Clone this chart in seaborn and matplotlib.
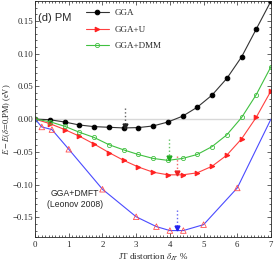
import numpy as np
import pandas as pd
import seaborn as sns
import matplotlib.pyplot as plt
from matplotlib.ticker import MultipleLocator

# JT distortion grid (%)
x_grid = [0, 0.44, 0.88, 1.31, 1.75, 2.19, 2.63, 3.06, 3.5, 3.94, 4.38, 4.81, 5.25, 5.69, 6.13, 6.56, 7.0]
e_gga = [0, -0.001, -0.0045, -0.009, -0.0115, -0.0125, -0.0135, -0.013, -0.0105, -0.0045, 0.0045, 0.018, 0.0365, 0.062, 0.095, 0.137, 0.18]
e_ggau = [0, -0.007, -0.016, -0.026, -0.038, -0.051, -0.063, -0.073, -0.081, -0.085, -0.085, -0.082, -0.072, -0.055, -0.030, 0.0025, 0.043]
e_dmm = [0, -0.004, -0.011, -0.020, -0.028, -0.039, -0.047, -0.054, -0.060, -0.063, -0.060, -0.054, -0.042, -0.024, 0.0025, 0.037, 0.080]

# GGA+DMFT (Leonov 2008)
x_dmft = [0, 0.2, 0.5, 1.0, 2.0, 3.0, 3.6, 4.0, 4.4, 5.0, 6.0, 7.0]
e_dmft = [0, -0.012, -0.016, -0.046, -0.107, -0.149, -0.164, -0.170, -0.170, -0.161, -0.105, 0.0]

# minima arrows: x, top, bottom
arr_x = [2.67, 3.97, 4.21, 4.21]
arr_top = [0.0175, -0.030, -0.056, -0.139]
arr_bot = [-0.013, -0.062, -0.085, -0.169]
arr_col = ['#222222', '#22aa22', '#ee2222', '#2222ee']

sns.set_style("ticks")
plt.rcParams['font.family'] = ['Liberation Serif', 'DejaVu Serif']
plt.rcParams['mathtext.fontset'] = 'stix'

df = pd.DataFrame({'x': x_grid, 'GGA': e_gga, 'GGA+U': e_ggau, 'GGA+DMM': e_dmm})

fig = plt.figure(figsize=(2.74, 2.62), dpi=100)
ax = fig.add_axes([0.128, 0.095, 0.861, 0.901])

ax.axhline(0, color='#d8d8d8', lw=1.0, zorder=0)

sns.lineplot(data=df, x='x', y='GGA', ax=ax, color='#333333', lw=0.8, marker='o',
             markersize=3.3, markerfacecolor='black', markeredgecolor='black', label='GGA')
sns.lineplot(data=df, x='x', y='GGA+U', ax=ax, color='#ff4040', lw=0.8, marker='>',
             markersize=3.3, markerfacecolor='#ff2020', markeredgecolor='#ff2020', label='GGA+U')
sns.lineplot(data=df, x='x', y='GGA+DMM', ax=ax, color='#40c040', lw=0.8, marker='o',
             markersize=3, markerfacecolor='none', markeredgecolor='#40c040', markeredgewidth=0.6,
             label='GGA+DMM')

dm = pd.DataFrame({'x': x_dmft, 'e': e_dmft})
sns.lineplot(data=dm, x='x', y='e', ax=ax, color='#4a4aff', lw=0.8, legend=False)
sns.scatterplot(data=dm.iloc[1:-1], x='x', y='e', ax=ax, marker='^', s=16,
                facecolor='none', edgecolor='#ff5050', linewidth=0.6, legend=False, zorder=3)

for xa, yt, yb, c in zip(arr_x, arr_top, arr_bot, arr_col):
    ax.plot([xa, xa], [yt, yb + 0.004], ls=':', lw=1.0, color=c, alpha=0.7)
    ax.plot([xa], [yb + 0.003], marker='v', markersize=3.5, color=c, lw=0)

ax.set_xlim(0, 7)
ax.set_ylim(-0.18, 0.18)
ax.xaxis.set_major_locator(MultipleLocator(1))
ax.xaxis.set_minor_locator(MultipleLocator(0.1))
ax.yaxis.set_major_locator(MultipleLocator(0.05))
ax.yaxis.set_minor_locator(MultipleLocator(0.01))
ax.yaxis.set_major_formatter(plt.FuncFormatter(
    lambda v, p: ('%.2f' % v).replace('-', '\u2212') if abs(v) > 1e-9 else '0.00'))
ax.tick_params(which='both', direction='in', top=True, right=True, labelsize=6.3,
               width=0.5, pad=2.5)
ax.tick_params(axis='y', pad=1.5)
ax.tick_params(which='major', length=3)
ax.tick_params(which='minor', length=1.5)
for s in ax.spines.values():
    s.set_linewidth(0.6)

ax.set_xlabel(r'JT distortion $\delta_{JT}$ %', fontsize=6.5, labelpad=2)
ax.set_ylabel(r'$E-E(\delta\!=\!0{,}\mathrm{PM})$ (eV)', fontsize=6.0, va='center')
ax.yaxis.set_label_coords(-0.118, 0.5)

ax.text(0.09, 0.154, '(d) PM', fontsize=8, family=['Liberation Sans', 'DejaVu Sans'], va='center')
ax.text(1.19, -0.1136, 'GGA+DMFT', fontsize=6.2, family=['Liberation Sans', 'DejaVu Sans'],
        ha='center', va='center')
ax.text(1.19, -0.130, '(Leonov 2008)', fontsize=6.2, family=['Liberation Sans', 'DejaVu Sans'],
        ha='center', va='center')

leg = ax.legend(loc='upper left', bbox_to_anchor=(0.18, 1.0), frameon=False, fontsize=6.5,
                handlelength=2.6, labelspacing=0.9, handletextpad=0.6)

fig.savefig('out.png', dpi=100)
